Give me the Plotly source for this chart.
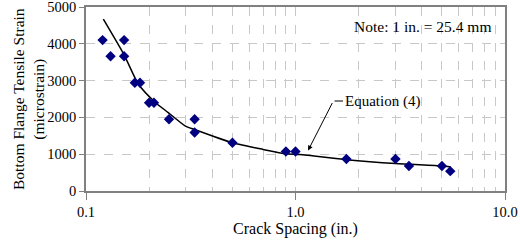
import plotly.graph_objects as go

# measured data (crack spacing in inches, strain in microstrain)
spacing = [0.12, 0.131, 0.152, 0.152, 0.171, 0.181, 0.200, 0.211, 0.249, 0.33, 0.33,
           0.50, 0.90, 1.00, 1.75, 3.0, 3.48, 5.0, 5.48]
strain = [4100, 3660, 4100, 3660, 2940, 2940, 2400, 2400, 1950, 1950, 1590,
          1310, 1075, 1075, 870, 870, 680, 680, 540]

# Equation (4) curve
eq_x = [0.121, 0.152, 0.178, 0.213, 0.247, 0.297, 0.33, 0.5, 0.7, 0.9, 1.05, 1.75, 3.0, 5.0, 5.5]
eq_y = [4670, 3700, 2900, 2420, 2130, 1770, 1670, 1310, 1130, 1010, 990, 850, 745, 680, 655]

x_tickvals = [0.1, 1, 10]
x_ticktext = ["0.1", "1.0", "10.0"]
y_tickvals = [0, 1000, 2000, 3000, 4000, 5000]

FONT = "Liberation Serif, Times New Roman, serif"

fig = go.Figure()
fig.add_trace(go.Scatter(x=eq_x, y=eq_y, mode="lines", line=dict(color="black", width=1.5, shape="spline", smoothing=0.6),
                         showlegend=False, hoverinfo="skip"))
fig.add_trace(go.Scatter(x=spacing, y=strain, mode="markers",
                         marker=dict(symbol="diamond", size=8, color="#000080"), showlegend=False))

fig.update_layout(
    width=520, height=243,
    margin=dict(l=86, r=15, t=7, b=52, autoexpand=False),
    paper_bgcolor="white", plot_bgcolor="white",
    font=dict(family=FONT, size=15, color="black"),
    xaxis=dict(
        type="log", range=[-1, 1], tickvals=x_tickvals, ticktext=x_ticktext,
        showgrid=True, gridcolor="#c8c8c8", griddash="dash", gridwidth=1,
        minor=dict(showgrid=True, dtick="D1", gridcolor="#c8c8c8", griddash="dash", gridwidth=1),
        ticks="outside", ticklen=7, tickcolor="#808080",
        showline=True, linecolor="#808080", linewidth=1.5, mirror=True,
        title=dict(text="Crack Spacing (in.)", font=dict(size=16), standoff=2),
        tickfont=dict(size=14.5), zeroline=False, automargin=False, ticklabeloverflow="allow",
    ),
    yaxis=dict(
        range=[0, 5000], tickvals=y_tickvals,
        showgrid=True, gridcolor="#c8c8c8", griddash="dash", gridwidth=1,
        ticks="outside", ticklen=5, tickcolor="#808080",
        showline=True, linecolor="#808080", linewidth=1.5, mirror=True,
        tickfont=dict(size=14.5), zeroline=False, automargin=False, ticklabeloverflow="allow",
    ),
)

fig.add_annotation(xref="paper", yref="paper", x=(29 - 86) / 419, y=0.5, textangle=-90,
                   text="Bottom Flange Tensile Strain<br>(microstrain)", showarrow=False,
                   xanchor="center", yanchor="middle", font=dict(size=15.5))
fig.add_annotation(xref="paper", yref="paper", x=0.971, y=0.895, text="Note: 1 in. = 25.4 mm",
                   showarrow=False, xanchor="right", yanchor="middle", font=dict(size=15.5))
fig.add_annotation(xref="paper", yref="paper", x=(343 - 86) / 419, y=(191 - 101) / 184, text="Equation (4)",
                   showarrow=False, xanchor="left", yanchor="middle", font=dict(size=15))
# arrow tip on curve, tail near the label
fig.add_annotation(x=0.06, y=1100, text="", showarrow=True, arrowhead=2, arrowsize=1, arrowwidth=1,
                   arrowcolor="black", ax=25, ay=-49, standoff=0)
fig.add_annotation(xref="paper", yref="paper", x=(343 - 86) / 419, y=(191 - 101) / 184, text="",
                   showarrow=True, arrowhead=0, arrowwidth=1, arrowcolor="black", ax=-10, ay=0)

fig.write_html("out.html", config={"displayModeBar": False},
               post_script="document.body.style.margin='0';document.body.style.overflow='hidden';")
